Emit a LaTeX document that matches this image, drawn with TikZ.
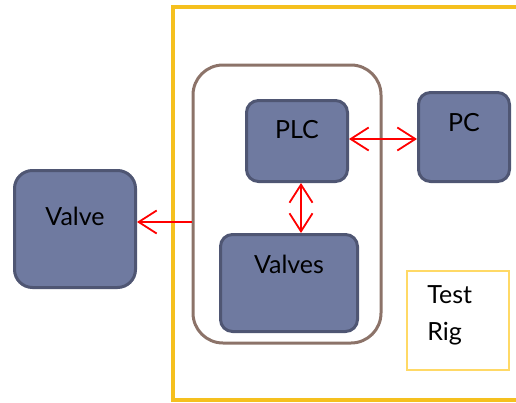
\documentclass[tikz,border=0pt]{standalone}
\usepackage{fontspec}
\setmainfont{Lato}
\usetikzlibrary{arrows.meta}

\definecolor{unitfill}{RGB}{111,122,160}
\definecolor{unitedge}{RGB}{79,86,115}
\definecolor{rigframe}{RGB}{245,192,30}
\definecolor{rignote}{RGB}{255,217,102}
\definecolor{housing}{RGB}{140,115,105}

\begin{document}
\begin{tikzpicture}[x=1pt,y=-1pt,
  unit/.style={draw=unitedge,fill=unitfill,line width=3pt,rounded corners=12pt,inner sep=0pt},
  caption/.style={font=\fontsize{25}{37}\selectfont,inner sep=0pt,anchor=north},
  barb/.tip={Straight Barb[length=18pt,width=23pt]},
  link/.style={red,line width=1.8pt}]
  \useasboundingbox (0,0) rectangle (516,402);

  % test rig frame, open to the right
  \draw[rigframe,line width=3.5pt] (516,7) -- (173,7) -- (173,400) -- (516,400);

  % housing round PLC and valves
  \node[draw=housing,line width=3pt,rounded corners=30pt,minimum width=188pt,minimum height=278pt] (housing) at (287,204) {};

  % units
  \node[unit,minimum width=101pt,minimum height=81pt,
    label={[caption,name=plctext,yshift=-21pt]north:PLC}] (plc) at (297,141) {};
  \node[unit,minimum width=91pt,minimum height=89pt,
    label={[caption,name=pctext,yshift=-22pt]north:PC}] (pc) at (464,137) {};
  \node[unit,rounded corners=18pt,minimum width=121pt,minimum height=117pt,
    label={[caption,name=valvetext,yshift=-38pt]north:Valve}] (valve) at (75,229) {};
  \node[unit,minimum width=137pt,minimum height=97pt,
    label={[caption,name=valvestext,yshift=-22pt]north:Valves}] (valves) at (289,283) {};

  % legend box
  \node[draw=rignote,line width=1.5pt,minimum width=102pt,minimum height=99pt,inner sep=0pt,
    label={[caption,name=rigtext,anchor=north west,align=left,xshift=21pt,yshift=-15pt]north west:Test\\Rig}] (rig) at (458,320.5) {};

  % links
  \draw[link,barb-barb] ([yshift=2pt]plc.east) -- ([yshift=2pt]plc.east -| pc.west);
  \draw[link,barb-barb] ([xshift=4pt]plc.south) -- ([xshift=4pt]plc.south |- valves.north);
  \coordinate (tap) at (housing.west |- 0,222);
  \draw[link,barb-] (valve.east |- tap) -- (tap);
\end{tikzpicture}
\end{document}
